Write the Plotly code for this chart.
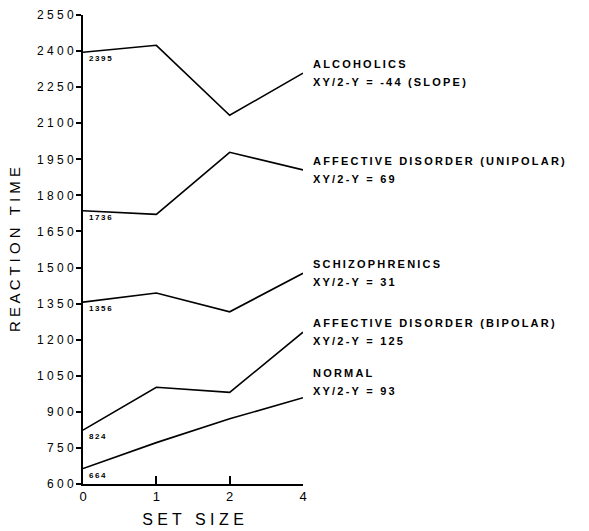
import plotly.graph_objects as go

# Set sizes shown on the horizontal axis (equally spaced categories)
set_sizes = ["0", "1", "2", "4"]

# Mean reaction time per group at each set size
alcoholics = [2395, 2424, 2133, 2308]
unipolar = [1736, 1721, 1979, 1906]
schizophrenics = [1356, 1394, 1316, 1476]
bipolar = [824, 1002, 981, 1231]
normal = [664, 772, 871, 959]

series = [alcoholics, unipolar, schizophrenics, bipolar, normal]
group_names = ["ALCOHOLICS", "AFFECTIVE DISORDER (UNIPOLAR)", "SCHIZOPHRENICS",
               "AFFECTIVE DISORDER (BIPOLAR)", "NORMAL"]
slope_texts = ["XY/2-Y = -44 (SLOPE)", "XY/2-Y = 69", "XY/2-Y = 31",
               "XY/2-Y = 125", "XY/2-Y = 93"]

y_ticks = list(range(600, 2551, 150))

FONT = "Liberation Sans"


def spaced(s, sep="\u2009"):
    return sep.join(s)


fig = go.Figure()
for vals in series:
    fig.add_trace(go.Scatter(x=set_sizes, y=vals, mode="lines",
                             line=dict(color="black", width=1.6),
                             showlegend=False, hoverinfo="skip"))

annotations = []
# Group labels just right of the last point of each line
label_shift = [0, 0, 0, 0, 16]
for vals, name, slope, dy in zip(series, group_names, slope_texts, label_shift):
    for txt, off in ((name, 9), (slope, -9)):
        annotations.append(dict(
            x=1, y=vals[-1], xref="paper", yref="y",
            text="<b>" + spaced(txt) + "</b>", showarrow=False,
            xanchor="left", yanchor="middle",
            xshift=8, yshift=dy + off,
            font=dict(family=FONT, size=11, color="black")))

# Starting values printed just under the first point
for vals in series:
    annotations.append(dict(
        x=0, y=vals[0], xref="paper", yref="y",
        text="<b>" + spaced(str(vals[0])) + "</b>", showarrow=False,
        xanchor="left", yanchor="top",
        xshift=4, yshift=0,
        font=dict(family=FONT, size=8, color="black")))

fig.update_layout(
    width=589, height=531,
    margin=dict(l=83, r=286, t=15, b=47),
    paper_bgcolor="white", plot_bgcolor="white",
    annotations=annotations,
    xaxis=dict(
        type="category", range=[0, 3], automargin=False,
        showgrid=False, zeroline=False,
        showline=True, linecolor="black", linewidth=1.6,
        ticks="inside", ticklen=8, tickwidth=1.6, tickcolor="black",
        tickfont=dict(family=FONT, size=13, color="black"),
        title=dict(text=spaced("SET SIZE", " "), standoff=10,
                   font=dict(family=FONT, size=16, color="black")),
    ),
    yaxis=dict(
        range=[600, 2550], automargin=False,
        tickvals=y_ticks, ticktext=[spaced(str(v), " ") for v in y_ticks],
        showgrid=False, zeroline=False,
        showline=True, linecolor="black", linewidth=1.6,
        ticks="outside", ticklen=5, tickwidth=1.6, tickcolor="black",
        tickfont=dict(family=FONT, size=12, color="black"),
        title=dict(text=spaced("REACTION TIME", " "), standoff=13,
                   font=dict(family=FONT, size=15, color="black")),
    ),
)

fig.write_html("out.html")
